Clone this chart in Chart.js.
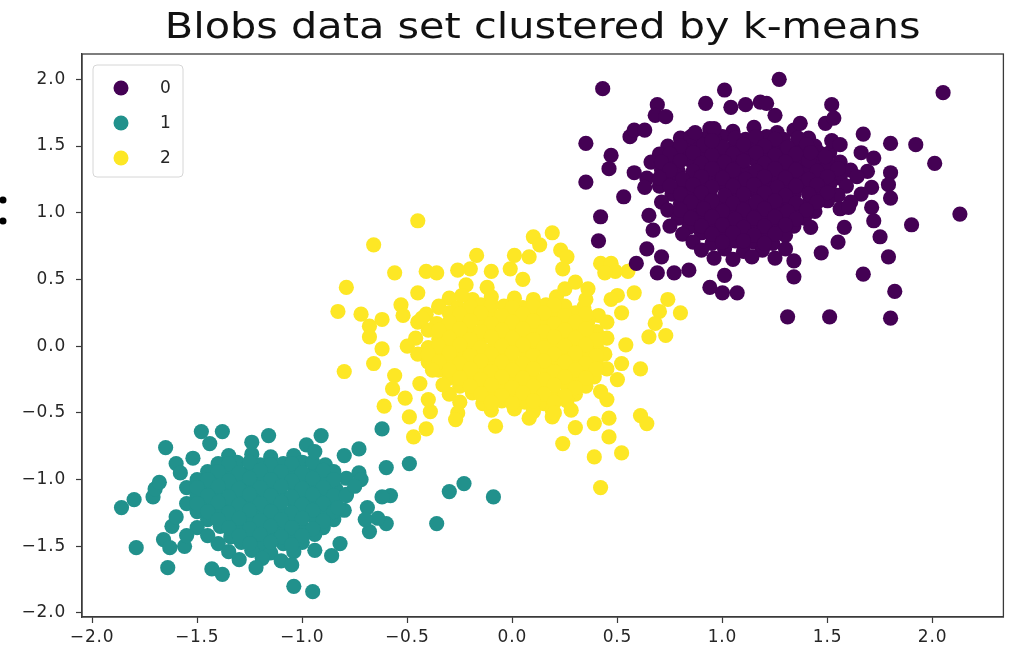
<!DOCTYPE html>
<html>
<head>
<meta charset="utf-8">
<title>Blobs data set clustered by k-means</title>
<script src="https://cdn.jsdelivr.net/npm/chart.js@4.4.1/dist/chart.umd.min.js"></script>
<style>
  html, body { margin: 0; padding: 0; background: #fff; }
  #wrap { width: 1011px; height: 650px; }
</style>
</head>
<body>
<div id="wrap"><canvas id="blobs" width="1011" height="650"></canvas></div>
<script>
// cluster labels and viridis colours
const clusterNames = ['0', '1', '2'];
const clusterColors = ['#440154', '#21918c', '#fde725'];
const chartTitle = 'Blobs data set clustered by k-means';

// axis ticks
const xTicks = [-2.0, -1.5, -1.0, -0.5, 0.0, 0.5, 1.0, 1.5, 2.0];
const yTicks = [-2.0, -1.5, -1.0, -0.5, 0.0, 0.5, 1.0, 1.5, 2.0];

// cluster 0 (upper right)
const cluster0 = [
  [0.94,1.63],[1.05,1.61],[1.15,1.64],[1.26,1.60],[1.34,1.62],
  [0.80,1.56],[0.91,1.55],[1.00,1.57],[1.11,1.55],[1.21,1.57],[1.29,1.55],[1.41,1.56],
  [0.74,1.50],[0.86,1.51],[0.95,1.49],[1.06,1.51],[1.14,1.50],[1.25,1.49],[1.36,1.51],[1.44,1.50],
  [0.70,1.44],[0.81,1.43],[0.90,1.45],[1.01,1.44],[1.10,1.43],[1.21,1.45],[1.30,1.44],[1.39,1.43],[1.51,1.45],
  [0.66,1.38],[0.76,1.37],[0.85,1.39],[0.96,1.38],[1.05,1.37],[1.16,1.39],[1.24,1.38],[1.35,1.37],[1.46,1.39],[1.56,1.38],
  [0.71,1.32],[0.79,1.31],[0.91,1.33],[1.00,1.32],[1.11,1.31],[1.20,1.33],[1.31,1.32],[1.40,1.31],[1.49,1.33],[1.61,1.32],[1.69,1.31],
  [0.64,1.26],[0.75,1.27],[0.86,1.25],[0.95,1.26],[1.06,1.27],[1.14,1.25],[1.25,1.26],[1.36,1.27],[1.45,1.25],[1.56,1.26],[1.64,1.27],
  [0.70,1.20],[0.81,1.19],[0.90,1.21],[1.01,1.20],[1.09,1.19],[1.20,1.21],[1.31,1.20],[1.40,1.19],[1.51,1.21],[1.59,1.20],[1.71,1.19],
  [0.76,1.14],[0.85,1.15],[0.94,1.13],[1.05,1.14],[1.16,1.15],[1.25,1.13],[1.34,1.14],[1.46,1.15],[1.55,1.13],[1.66,1.14],
  [0.71,1.08],[0.80,1.07],[0.89,1.09],[1.00,1.08],[1.11,1.07],[1.20,1.09],[1.29,1.08],[1.41,1.07],[1.50,1.09],[1.61,1.08],
  [0.74,1.02],[0.86,1.01],[0.95,1.03],[1.04,1.02],[1.15,1.01],[1.26,1.03],[1.35,1.02],[1.44,1.01],[1.56,1.03],
  [0.79,0.96],[0.90,0.97],[1.01,0.95],[1.10,0.96],[1.19,0.97],[1.30,0.95],[1.39,0.96],
  [0.75,0.90],[0.84,0.89],[0.96,0.91],[1.05,0.90],[1.14,0.89],[1.25,0.91],[1.34,0.90],
  [0.81,0.84],[0.90,0.85],[0.99,0.83],[1.10,0.84],[1.21,0.85],[1.30,0.83],
  [0.86,0.78],[0.95,0.77],[1.06,0.79],[1.15,0.78],[1.24,0.77],
  [0.90,0.72],[1.01,0.73],[1.10,0.71],[1.19,0.72],[1.30,0.73],
  [0.96,0.66],[1.05,0.65],[1.14,0.67],[1.25,0.66],
  [0.85,1.57],[0.96,1.55],[1.06,1.56],[1.16,1.57],[1.25,1.55],[1.36,1.56],
  [0.80,1.50],[0.91,1.51],[1.00,1.49],[1.10,1.51],[1.20,1.50],[1.31,1.49],[1.40,1.51],
  [0.75,1.44],[0.86,1.45],[0.95,1.43],[1.05,1.44],[1.16,1.45],[1.25,1.43],[1.35,1.44],[1.46,1.45],
  [0.71,1.38],[0.80,1.39],[0.90,1.37],[1.01,1.38],[1.10,1.39],[1.20,1.37],[1.30,1.38],[1.41,1.39],[1.50,1.37],
  [0.75,1.32],[0.86,1.31],[0.95,1.33],[1.05,1.32],[1.16,1.31],[1.25,1.33],[1.35,1.32],[1.45,1.31],[1.55,1.33],
  [0.70,1.26],[0.81,1.25],[0.90,1.27],[1.00,1.26],[1.11,1.25],[1.20,1.27],[1.30,1.26],[1.41,1.25],[1.50,1.27],
  [0.75,1.20],[0.86,1.21],[0.95,1.19],[1.05,1.20],[1.15,1.21],[1.26,1.19],[1.35,1.20],[1.45,1.21],
  [0.80,1.14],[0.90,1.15],[1.01,1.13],[1.10,1.14],[1.20,1.15],[1.30,1.13],[1.41,1.14],[1.50,1.15],
  [0.85,1.08],[0.95,1.09],[1.05,1.07],[1.16,1.08],[1.25,1.09],[1.35,1.07],[1.45,1.08],
  [0.80,1.02],[0.91,1.03],[1.00,1.01],[1.10,1.02],[1.20,1.03],[1.31,1.01],[1.40,1.02],
  [0.85,0.96],[0.95,0.97],[1.06,0.95],[1.15,0.96],[1.25,0.97],[1.35,0.95],
  [0.90,0.90],[1.00,0.91],[1.10,0.89],[1.20,0.90],[1.30,0.91],
  [0.95,0.84],[1.05,0.85],[1.15,0.83],[1.25,0.84],
  [1.00,0.78],[1.10,0.79],[1.20,0.77],
  [0.43,1.93],[1.01,1.92],[1.27,2.00],[2.05,1.90],[0.92,1.82],[0.69,1.81],[1.52,1.81],[0.35,1.52],
  [1.67,1.59],[1.80,1.52],[1.92,1.51],[2.01,1.37],[0.35,1.23],[0.53,1.12],[0.42,0.97],[0.41,0.79],
  [2.13,0.99],[1.90,0.91],[1.75,0.82],[1.79,0.67],[1.67,0.54],[1.82,0.41],[1.80,0.21],[1.51,0.22],
  [1.31,0.22],[1.07,0.40],[1.00,0.40],[0.94,0.44],[1.01,0.53],[1.34,0.52],[1.34,0.64],[0.69,0.55],
  [0.77,0.55],[0.84,0.57],[0.59,0.62],[0.64,0.73],[0.71,0.67],[1.47,0.70],[1.55,0.78],[0.65,0.98],
  [0.67,0.87],[0.47,1.43],[0.46,1.33],[0.56,1.57],[0.58,1.62],[0.63,1.62],[0.68,1.73],[0.73,1.72],
  [0.63,1.19],[0.58,1.30],[1.04,1.79],[1.11,1.81],[1.18,1.83],[1.21,1.82],[1.25,1.73],[1.37,1.67],
  [1.49,1.67],[1.53,1.71],[1.52,1.54],[1.56,1.51],[1.66,1.45],[1.72,1.41],[1.80,1.30],[1.79,1.21],
  [1.80,1.11],[1.71,1.04],[1.72,0.94],[1.58,0.89],[1.60,1.04],[1.42,0.89],[1.49,1.42],[1.42,1.45],
  [0.96,1.63],[0.87,1.60],[0.95,1.54]
];

// cluster 1 (lower left)
const cluster1 = [
  [-1.35,-0.82],[-1.24,-0.81],[-1.15,-0.83],[-1.04,-0.82],
  [-1.40,-0.88],[-1.31,-0.87],[-1.20,-0.89],[-1.09,-0.88],[-1.00,-0.87],[-0.89,-0.89],
  [-1.45,-0.94],[-1.36,-0.95],[-1.25,-0.93],[-1.14,-0.94],[-1.05,-0.95],[-0.94,-0.93],[-0.85,-0.94],
  [-1.50,-1.00],[-1.39,-0.99],[-1.30,-1.01],[-1.19,-1.00],[-1.10,-0.99],[-0.99,-1.01],[-0.90,-1.00],[-0.79,-0.99],
  [-1.55,-1.06],[-1.44,-1.07],[-1.35,-1.05],[-1.24,-1.06],[-1.15,-1.07],[-1.04,-1.05],[-0.95,-1.06],[-0.84,-1.07],
  [-1.50,-1.12],[-1.41,-1.11],[-1.30,-1.13],[-1.19,-1.12],[-1.10,-1.11],[-0.99,-1.13],[-0.90,-1.12],[-0.79,-1.11],
  [-1.55,-1.18],[-1.44,-1.19],[-1.35,-1.17],[-1.24,-1.18],[-1.15,-1.19],[-1.04,-1.17],[-0.95,-1.18],[-0.84,-1.19],
  [-1.50,-1.24],[-1.39,-1.23],[-1.30,-1.25],[-1.19,-1.24],[-1.10,-1.23],[-0.99,-1.25],[-0.90,-1.24],[-0.80,-1.23],
  [-1.45,-1.30],[-1.34,-1.31],[-1.25,-1.29],[-1.14,-1.30],[-1.05,-1.31],[-0.94,-1.29],[-0.85,-1.30],
  [-1.50,-1.36],[-1.39,-1.35],[-1.30,-1.37],[-1.19,-1.36],[-1.10,-1.35],[-0.99,-1.37],[-0.90,-1.36],
  [-1.45,-1.42],[-1.34,-1.43],[-1.25,-1.41],[-1.14,-1.42],[-1.05,-1.43],[-0.94,-1.41],
  [-1.40,-1.48],[-1.29,-1.47],[-1.20,-1.49],[-1.09,-1.48],[-1.00,-1.47],
  [-1.35,-1.54],[-1.24,-1.53],[-1.15,-1.55],[-1.04,-1.54],
  [-1.30,-1.60],[-1.19,-1.59],[-1.10,-1.61],
  [-1.35,-0.88],[-1.25,-0.87],[-1.15,-0.89],[-1.05,-0.88],[-0.95,-0.87],
  [-1.40,-0.94],[-1.30,-0.95],[-1.20,-0.93],[-1.10,-0.94],[-1.00,-0.95],[-0.90,-0.93],
  [-1.45,-1.00],[-1.35,-1.01],[-1.25,-0.99],[-1.15,-1.00],[-1.05,-1.01],[-0.95,-0.99],[-0.85,-1.00],
  [-1.50,-1.06],[-1.40,-1.05],[-1.30,-1.07],[-1.20,-1.06],[-1.10,-1.05],[-1.00,-1.07],[-0.90,-1.06],
  [-1.45,-1.12],[-1.35,-1.13],[-1.25,-1.11],[-1.15,-1.12],[-1.05,-1.13],[-0.95,-1.11],[-0.85,-1.12],
  [-1.50,-1.18],[-1.40,-1.17],[-1.30,-1.19],[-1.20,-1.18],[-1.10,-1.17],[-1.00,-1.19],[-0.90,-1.18],
  [-1.45,-1.24],[-1.35,-1.25],[-1.25,-1.23],[-1.15,-1.24],[-1.05,-1.25],[-0.95,-1.23],[-0.85,-1.24],
  [-1.40,-1.30],[-1.30,-1.29],[-1.20,-1.31],[-1.10,-1.30],[-1.00,-1.29],[-0.90,-1.31],
  [-1.35,-1.36],[-1.25,-1.37],[-1.15,-1.35],[-1.05,-1.36],[-0.95,-1.37],
  [-1.30,-1.42],[-1.20,-1.41],[-1.10,-1.43],[-1.00,-1.42],
  [-1.25,-1.48],[-1.15,-1.47],[-1.05,-1.49],
  [-1.86,-1.21],[-1.80,-1.15],[-1.71,-1.13],[-1.70,-1.07],[-1.79,-1.51],[-1.64,-1.66],[-1.65,-0.76],[-1.48,-0.64],
  [-1.38,-0.64],[-1.60,-0.88],[-1.62,-1.35],[-1.66,-1.45],[-1.63,-1.51],[-1.56,-1.50],[-1.43,-1.67],[-1.38,-1.71],
  [-1.22,-1.66],[-1.04,-1.80],[-0.95,-1.84],[-1.05,-1.64],[-0.86,-1.57],[-0.82,-1.48],[-0.94,-1.53],[-0.68,-1.39],
  [-0.60,-1.33],[-0.64,-1.29],[-0.36,-1.33],[-0.30,-1.09],[-0.23,-1.03],[-0.09,-1.13],[-0.49,-0.88],[-0.60,-0.91],
  [-0.62,-0.62],[-0.73,-0.77],[-0.80,-0.82],[-0.91,-0.67],[-0.98,-0.74],[-0.94,-0.79],[-1.16,-0.67],[-1.24,-0.72],
  [-0.58,-1.12],[-0.62,-1.13],[-0.69,-1.21],[-0.73,-0.95],[-0.79,-1.12],[-0.83,-1.21],[-1.44,-0.73],[-1.52,-0.84],
  [-1.58,-0.95],[-1.68,-1.02],[-1.60,-1.28],[-1.55,-1.42],[-0.72,-1.00],[-0.75,-1.05],[-0.70,-1.30]
];

// cluster 2 (centre)
const cluster2 = [
  [-0.30,0.36],[-0.19,0.35],[-0.10,0.37],[0.01,0.36],[0.10,0.35],[0.21,0.37],
  [-0.35,0.30],[-0.26,0.29],[-0.15,0.31],[-0.04,0.30],[0.05,0.29],[0.16,0.31],[0.25,0.30],[0.34,0.29],
  [-0.41,0.24],[-0.30,0.25],[-0.21,0.23],[-0.10,0.24],[0.01,0.25],[0.10,0.23],[0.19,0.24],[0.30,0.25],[0.41,0.23],
  [-0.45,0.18],[-0.36,0.17],[-0.25,0.19],[-0.14,0.18],[-0.05,0.17],[0.06,0.19],[0.15,0.18],[0.24,0.17],[0.36,0.19],[0.45,0.18],
  [-0.40,0.12],[-0.31,0.13],[-0.20,0.11],[-0.09,0.12],[0.00,0.13],[0.11,0.11],[0.20,0.12],[0.29,0.13],[0.40,0.11],
  [-0.46,0.06],[-0.35,0.05],[-0.24,0.07],[-0.15,0.06],[-0.04,0.05],[0.05,0.07],[0.16,0.06],[0.25,0.05],[0.34,0.07],[0.45,0.06],
  [-0.50,0.00],[-0.40,-0.01],[-0.29,0.01],[-0.20,0.00],[-0.09,-0.01],[0.00,0.01],[0.11,0.00],[0.20,-0.01],[0.31,0.01],[0.40,0.00],
  [-0.45,-0.06],[-0.34,-0.07],[-0.25,-0.05],[-0.14,-0.06],[-0.05,-0.07],[0.06,-0.05],[0.15,-0.06],[0.26,-0.07],[0.35,-0.05],[0.44,-0.06],
  [-0.40,-0.12],[-0.29,-0.11],[-0.20,-0.13],[-0.09,-0.12],[0.00,-0.11],[0.11,-0.13],[0.20,-0.12],[0.31,-0.11],[0.40,-0.13],
  [-0.35,-0.18],[-0.24,-0.19],[-0.15,-0.17],[-0.04,-0.18],[0.05,-0.19],[0.16,-0.17],[0.25,-0.18],[0.36,-0.19],[0.45,-0.17],
  [-0.30,-0.24],[-0.19,-0.23],[-0.10,-0.25],[0.01,-0.24],[0.10,-0.23],[0.21,-0.25],[0.30,-0.24],[0.39,-0.23],
  [-0.25,-0.30],[-0.14,-0.31],[-0.05,-0.29],[0.06,-0.30],[0.15,-0.31],[0.26,-0.29],[0.35,-0.30],
  [-0.30,-0.36],[-0.19,-0.35],[-0.10,-0.37],[0.01,-0.36],[0.10,-0.35],[0.21,-0.37],[0.30,-0.36],
  [-0.25,-0.42],[-0.14,-0.43],[-0.05,-0.41],[0.06,-0.42],[0.15,-0.43],[0.26,-0.41],
  [-0.10,-0.48],[0.01,-0.47],[0.10,-0.49],[0.19,-0.48],
  [-0.20,0.30],[-0.10,0.31],[0.00,0.29],[0.10,0.30],[0.20,0.31],
  [-0.25,0.24],[-0.15,0.25],[-0.05,0.23],[0.05,0.24],[0.15,0.25],[0.25,0.23],[0.35,0.24],
  [-0.30,0.18],[-0.20,0.19],[-0.10,0.17],[0.00,0.18],[0.10,0.19],[0.20,0.17],[0.30,0.18],
  [-0.35,0.12],[-0.25,0.13],[-0.15,0.11],[-0.05,0.12],[0.05,0.13],[0.15,0.11],[0.25,0.12],[0.35,0.13],
  [-0.30,0.06],[-0.20,0.05],[-0.10,0.07],[0.00,0.06],[0.10,0.05],[0.20,0.07],[0.30,0.06],[0.40,0.05],
  [-0.35,0.00],[-0.25,0.01],[-0.15,-0.01],[-0.05,0.00],[0.05,0.01],[0.15,-0.01],[0.25,0.00],[0.35,0.01],
  [-0.40,-0.06],[-0.30,-0.05],[-0.20,-0.07],[-0.10,-0.06],[0.00,-0.05],[0.10,-0.07],[0.20,-0.06],[0.30,-0.05],[0.40,-0.07],
  [-0.35,-0.12],[-0.25,-0.13],[-0.15,-0.11],[-0.05,-0.12],[0.05,-0.13],[0.15,-0.11],[0.25,-0.12],[0.35,-0.13],
  [-0.30,-0.18],[-0.20,-0.17],[-0.10,-0.19],[0.00,-0.18],[0.10,-0.17],[0.20,-0.19],[0.30,-0.18],[0.40,-0.17],
  [-0.25,-0.24],[-0.15,-0.25],[-0.05,-0.23],[0.05,-0.24],[0.15,-0.25],[0.25,-0.23],[0.35,-0.24],
  [-0.20,-0.30],[-0.10,-0.29],[0.00,-0.31],[0.10,-0.30],[0.20,-0.29],[0.30,-0.31],
  [-0.15,-0.36],[-0.05,-0.37],[0.05,-0.35],[0.15,-0.36],[0.25,-0.37],
  [-0.10,-0.42],[0.00,-0.43],[0.10,-0.41],[0.20,-0.42],
  [-0.45,0.94],[-0.66,0.76],[-0.56,0.55],[-0.79,0.44],[-0.83,0.26],[-0.72,0.24],[-0.68,0.15],[-0.68,0.07],
  [-0.62,0.20],[-0.80,-0.19],[-0.66,-0.13],[-0.62,-0.02],[-0.56,-0.22],[-0.57,-0.32],[-0.51,-0.39],[-0.61,-0.45],
  [-0.49,-0.53],[-0.47,-0.68],[-0.41,-0.62],[-0.39,-0.49],[-0.44,-0.28],[-0.33,-0.29],[-0.26,-0.50],[-0.27,-0.55],
  [-0.08,-0.60],[0.08,-0.54],[0.19,-0.53],[0.24,-0.73],[0.30,-0.61],[0.39,-0.58],[0.46,-0.54],[0.46,-0.68],
  [0.39,-0.83],[0.52,-0.80],[0.42,-1.06],[0.61,-0.52],[0.64,-0.58],[0.61,-0.17],[0.54,0.01],[0.65,0.07],
  [0.73,0.08],[0.80,0.25],[0.74,0.35],[0.70,0.26],[0.68,0.17],[0.52,0.25],[0.58,0.40],[0.50,0.38],
  [0.42,0.62],[0.47,0.62],[0.55,0.56],[0.49,0.56],[0.44,0.55],[0.25,0.43],[0.19,0.85],[0.10,0.82],
  [0.13,0.76],[0.23,0.72],[0.26,0.67],[0.24,0.58],[-0.17,0.68],[0.01,0.68],[0.08,0.67],[-0.01,0.58],
  [-0.10,0.56],[-0.20,0.58],[-0.26,0.57],[-0.41,0.56],[-0.36,0.55],[-0.22,0.46],[-0.24,0.38],[-0.53,0.31],
  [-0.52,0.23],[-0.43,0.21],[-0.35,0.29],[0.35,0.35],[0.36,0.43],[0.47,0.35],[0.52,-0.13],[0.42,-0.34],
  [0.28,-0.48],[0.20,-0.50],[0.05,0.50],[-0.12,0.44],[0.30,0.48],[-0.45,0.40],[-0.38,-0.18],[0.50,-0.25],
  [0.45,-0.40],[-0.40,-0.40]
];

const clusters = [cluster0, cluster1, cluster2];

const fontFamily = '"DejaVu Sans", sans-serif';
const inkColor = '#262626';
const spineColor = '#3a3a3a';

function fmtTick(v) {
  const s = Math.abs(v).toFixed(1);
  return v < 0 ? '\u2212' + s : s;
}

// a touch of letter spacing on the tick labels
const textSpacing = {
  id: 'textSpacing',
  beforeDraw(chart) { chart.ctx.letterSpacing = '0.8px'; },
  afterDraw(chart) { chart.ctx.letterSpacing = '0px'; }
};

// closes the plot box on all four sides like matplotlib spines
const frameBox = {
  id: 'frameBox',
  afterDraw(chart) {
    const { ctx, chartArea: a } = chart;
    ctx.save();
    ctx.strokeStyle = spineColor;
    ctx.lineWidth = 1.3;
    ctx.strokeRect(a.left, a.top, a.right - a.left, a.bottom - a.top);
    ctx.restore();
  }
};

// wide title centred over the plot box
const wideTitle = {
  id: 'wideTitle',
  afterDraw(chart) {
    const { ctx, chartArea: a } = chart;
    ctx.save();
    ctx.letterSpacing = '0px';
    ctx.translate((a.left + a.right) / 2, 38);
    ctx.scale(1.15, 1);
    ctx.font = '36px ' + fontFamily;
    ctx.fillStyle = '#111';
    ctx.textAlign = 'center';
    ctx.textBaseline = 'alphabetic';
    ctx.fillText(chartTitle, 0, 0);
    ctx.restore();
  }
};

// legend box drawn inside the upper left corner of the plot
const innerLegend = {
  id: 'innerLegend',
  afterDraw(chart) {
    const { ctx, chartArea: a } = chart;
    const x = a.left + 11, y = a.top + 11, w = 90, h = 112;
    ctx.save();
    ctx.letterSpacing = '0px';
    ctx.beginPath();
    ctx.roundRect(x, y, w, h, 4);
    ctx.fillStyle = 'rgba(255,255,255,0.85)';
    ctx.fill();
    ctx.strokeStyle = '#d6d6d6';
    ctx.lineWidth = 1;
    ctx.stroke();
    ctx.font = '17px ' + fontFamily;
    ctx.textAlign = 'left';
    ctx.textBaseline = 'middle';
    clusterNames.forEach((name, i) => {
      const cy = y + 23 + i * 35;
      ctx.beginPath();
      ctx.arc(x + 28, cy, 7.5, 0, Math.PI * 2);
      ctx.fillStyle = clusterColors[i];
      ctx.fill();
      ctx.fillStyle = inkColor;
      ctx.fillText(name, x + 67, cy + 1);
    });
    ctx.restore();
  }
};

// colon fragment at the left margin
const edgeMark = {
  id: 'edgeMark',
  afterDraw(chart) {
    const ctx = chart.ctx;
    ctx.save();
    ctx.fillStyle = '#000';
    ctx.beginPath();
    ctx.arc(3, 200, 3.5, 0, Math.PI * 2);
    ctx.arc(3, 221, 3.5, 0, Math.PI * 2);
    ctx.fill();
    ctx.restore();
  }
};

new Chart(document.getElementById('blobs'), {
  type: 'scatter',
  data: {
    datasets: clusters.map((pts, i) => ({
      label: clusterNames[i],
      data: pts.map(p => ({ x: p[0], y: p[1] })),
      backgroundColor: clusterColors[i],
      borderWidth: 0,
      pointRadius: 7.6,
      pointHoverRadius: 7.6
    }))
  },
  options: {
    responsive: false,
    animation: false,
    events: [],
    layout: { padding: { left: 0, right: 6, top: 54, bottom: 0 } },
    scales: {
      x: {
        type: 'linear',
        min: -2.048,
        max: 2.337,
        afterFit(scale) { scale.height = 33; },
        afterBuildTicks(scale) { scale.ticks = xTicks.map(v => ({ value: v })); },
        grid: { display: true, drawOnChartArea: false, drawTicks: true, tickLength: 6, tickColor: spineColor, tickWidth: 1.2 },
        border: { display: true, color: spineColor, width: 1.3 },
        ticks: {
          padding: 4,
          color: inkColor,
          font: { family: fontFamily, size: 17 },
          maxRotation: 0,
          callback: v => fmtTick(v)
        }
      },
      y: {
        type: 'linear',
        min: -2.03,
        max: 2.19,
        afterFit(scale) { scale.width = 82; },
        afterBuildTicks(scale) { scale.ticks = yTicks.map(v => ({ value: v })); },
        grid: { display: true, drawOnChartArea: false, drawTicks: true, tickLength: 6, tickColor: spineColor, tickWidth: 1.2 },
        border: { display: true, color: spineColor, width: 1.3 },
        ticks: {
          padding: 10,
          color: inkColor,
          font: { family: fontFamily, size: 17 },
          callback: v => fmtTick(v)
        }
      }
    },
    plugins: {
      legend: { display: false },
      tooltip: { enabled: false },
      title: { display: false }
    }
  },
  plugins: [textSpacing, frameBox, wideTitle, innerLegend, edgeMark]
});
</script>
</body>
</html>
